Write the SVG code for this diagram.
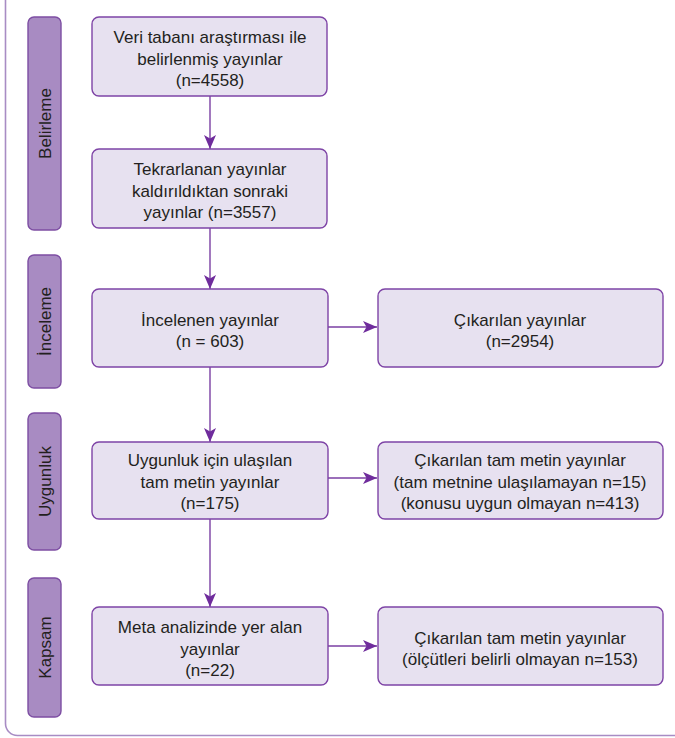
<svg xmlns="http://www.w3.org/2000/svg" width="675" height="738" viewBox="0 0 675 738">
<style>
.frame{fill:none;stroke:#a88cc4;stroke-width:1.6}
.bar{fill:#a88bc2;stroke:#7d4ea3;stroke-width:1.4}
.box{fill:#e7e1f0;stroke:#7e44a6;stroke-width:1.4}
.t{font-family:"Liberation Sans",Arial,sans-serif;font-size:17px;fill:#231f20;text-anchor:middle}
.s{font-family:"Liberation Sans",Arial,sans-serif;font-size:17px;fill:#231f20;text-anchor:middle}
.c{fill:none;stroke:#7a3fa3;stroke-width:1.4}
</style>
<defs>
<marker id="ah" viewBox="0 0 14 12" refX="14" refY="6" markerWidth="14" markerHeight="12" markerUnits="userSpaceOnUse" orient="auto">
<path d="M0,0 L14,6 L0,12 L3.5,6 z" fill="#6f2c9c"/>
</marker>
</defs>
<rect class="frame" x="5.5" y="-20" width="700" height="755.5" rx="12"/>
<g id="lane-belirleme"><rect class="bar" x="28" y="17" width="33" height="213" rx="6"/><text class="s" transform="translate(50.5,123.5) rotate(-90)">Belirleme</text></g>
<g id="lane-inceleme"><rect class="bar" x="28" y="255" width="33" height="133" rx="6"/><text class="s" transform="translate(50.5,321.5) rotate(-90)">İnceleme</text></g>
<g id="lane-uygunluk"><rect class="bar" x="28" y="413" width="33" height="137" rx="6"/><text class="s" transform="translate(50.5,481.5) rotate(-90)">Uygunluk</text></g>
<g id="lane-kapsam"><rect class="bar" x="28" y="578" width="33" height="139" rx="6"/><text class="s" transform="translate(50.5,647.5) rotate(-90)">Kapsam</text></g>
<g id="connectors">
<line class="c" x1="210" y1="96" x2="210" y2="149" marker-end="url(#ah)"/>
<line class="c" x1="210" y1="228" x2="210" y2="289" marker-end="url(#ah)"/>
<line class="c" x1="210" y1="367" x2="210" y2="442" marker-end="url(#ah)"/>
<line class="c" x1="210" y1="519" x2="210" y2="607" marker-end="url(#ah)"/>
<line class="c" x1="328" y1="327" x2="377" y2="327" marker-end="url(#ah)"/>
<line class="c" x1="328" y1="478" x2="377" y2="478" marker-end="url(#ah)"/>
<line class="c" x1="328" y1="646" x2="377" y2="646" marker-end="url(#ah)"/>
</g>
<g id="n1"><rect class="box" x="92" y="17" width="235" height="79" rx="7"/>
<text class="t" x="210" y="43">Veri tabanı araştırması ile</text>
<text class="t" x="210" y="64.5">belirlenmiş yayınlar</text>
<text class="t" x="210" y="86">(n=4558)</text></g>
<g id="n2"><rect class="box" x="92" y="149" width="235" height="79" rx="7"/>
<text class="t" x="210" y="175">Tekrarlanan yayınlar</text>
<text class="t" x="210" y="196.5">kaldırıldıktan sonraki</text>
<text class="t" x="210" y="218">yayınlar (n=3557)</text></g>
<g id="n3"><rect class="box" x="92" y="289" width="236" height="78" rx="7"/>
<text class="t" x="210" y="326">İncelenen yayınlar</text>
<text class="t" x="210" y="346.5">(n = 603)</text></g>
<g id="n4"><rect class="box" x="378" y="289" width="285" height="78" rx="7"/>
<text class="t" x="520" y="326">Çıkarılan yayınlar</text>
<text class="t" x="520" y="346.5">(n=2954)</text></g>
<g id="n5"><rect class="box" x="92" y="442" width="236" height="77" rx="7"/>
<text class="t" x="210" y="466">Uygunluk için ulaşılan</text>
<text class="t" x="210" y="487.5">tam metin yayınlar</text>
<text class="t" x="210" y="509">(n=175)</text></g>
<g id="n6"><rect class="box" x="378" y="442" width="285" height="77" rx="7"/>
<text class="t" x="520" y="466">Çıkarılan tam metin yayınlar</text>
<text class="t" x="520" y="487.5">(tam metnine ulaşılamayan n=15)</text>
<text class="t" x="520" y="509">(konusu uygun olmayan n=413)</text></g>
<g id="n7"><rect class="box" x="92" y="607" width="236" height="78" rx="7"/>
<text class="t" x="210" y="633">Meta analizinde yer alan</text>
<text class="t" x="210" y="654.5">yayınlar</text>
<text class="t" x="210" y="676">(n=22)</text></g>
<g id="n8"><rect class="box" x="378" y="607" width="285" height="78" rx="7"/>
<text class="t" x="520" y="643.5">Çıkarılan tam metin yayınlar</text>
<text class="t" x="520" y="664.5">(ölçütleri belirli olmayan n=153)</text></g>
</svg>
